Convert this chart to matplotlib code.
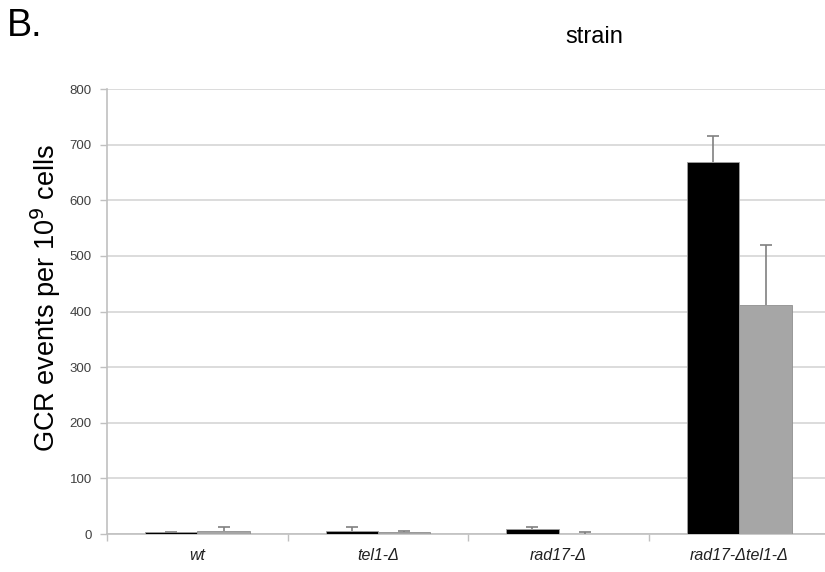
import numpy as np
import matplotlib.pyplot as plt

plt.rcParams['font.family'] = ['Liberation Sans', 'DejaVu Sans']

strains = ['wt', 'tel1-Δ', 'rad17-Δ', 'rad17-Δtel1-Δ']
black_vals = [3, 6, 9, 668]
black_err = [1, 7, 3, 48]
grey_vals = [6, 3, 0, 412]
grey_err = [7, 2, 4, 107]
yticks = [0, 100, 200, 300, 400, 500, 600, 700, 800]

fig = plt.figure(figsize=(8.25, 5.72), dpi=100)
ax = fig.add_axes([0.1297, 0.0664, 0.876, 0.778])

x = np.arange(len(strains))
w = 0.29
ax.bar(x - w/2, black_vals, w, color='black', edgecolor='#a0a0a0', linewidth=0.6, zorder=3)
ax.bar(x + w/2, grey_vals, w, color='#a6a6a6', edgecolor='#909090', linewidth=0.6, zorder=3)
# only the upper half of each error bar, cap on top only
for xs, vals, errs in [(x - w/2, black_vals, black_err), (x + w/2, grey_vals, grey_err)]:
    eb = ax.errorbar(xs, vals, yerr=[np.zeros(4), errs], fmt='none',
                     ecolor='#808080', elinewidth=1.2, capsize=4, capthick=1.2, zorder=4)
    eb[1][0].set_visible(False)

ax.set_xlim(-0.5, 3.5)
ax.set_ylim(0, 800)
ax.set_yticks(yticks)
ax.set_yticklabels([str(v) for v in yticks], fontsize=9.5, color='#404040')
ax.yaxis.grid(True, color='#d9d9d9', linewidth=1.3, zorder=0)
ax.tick_params(axis='y', length=5, width=1, color='#c0c0c0', pad=6)

ax.set_xticks(x)
ax.set_xticklabels(strains, fontsize=11.5, style='italic', color='#202020')
ax.set_xticks(np.arange(-0.5, 3.6, 1), minor=True)
ax.tick_params(axis='x', which='major', length=0, pad=10)
ax.tick_params(axis='x', which='minor', length=5, width=1, color='#c0c0c0')

for s in ['top', 'right']:
    ax.spines[s].set_visible(False)
for s in ['left', 'bottom']:
    ax.spines[s].set_color('#c0c0c0')
    ax.spines[s].set_linewidth(1.2)

ax.set_ylabel('GCR events per 10$^{9}$ cells', fontsize=19.5, labelpad=5)
ax.yaxis.label.set_y(0.53)

fig.text(0.008, 0.955, 'B.', fontsize=27, va='center', ha='left')
fig.text(0.72, 0.935, 'strain', fontsize=17, va='center', ha='center')

fig.savefig('out.png', dpi=100)
